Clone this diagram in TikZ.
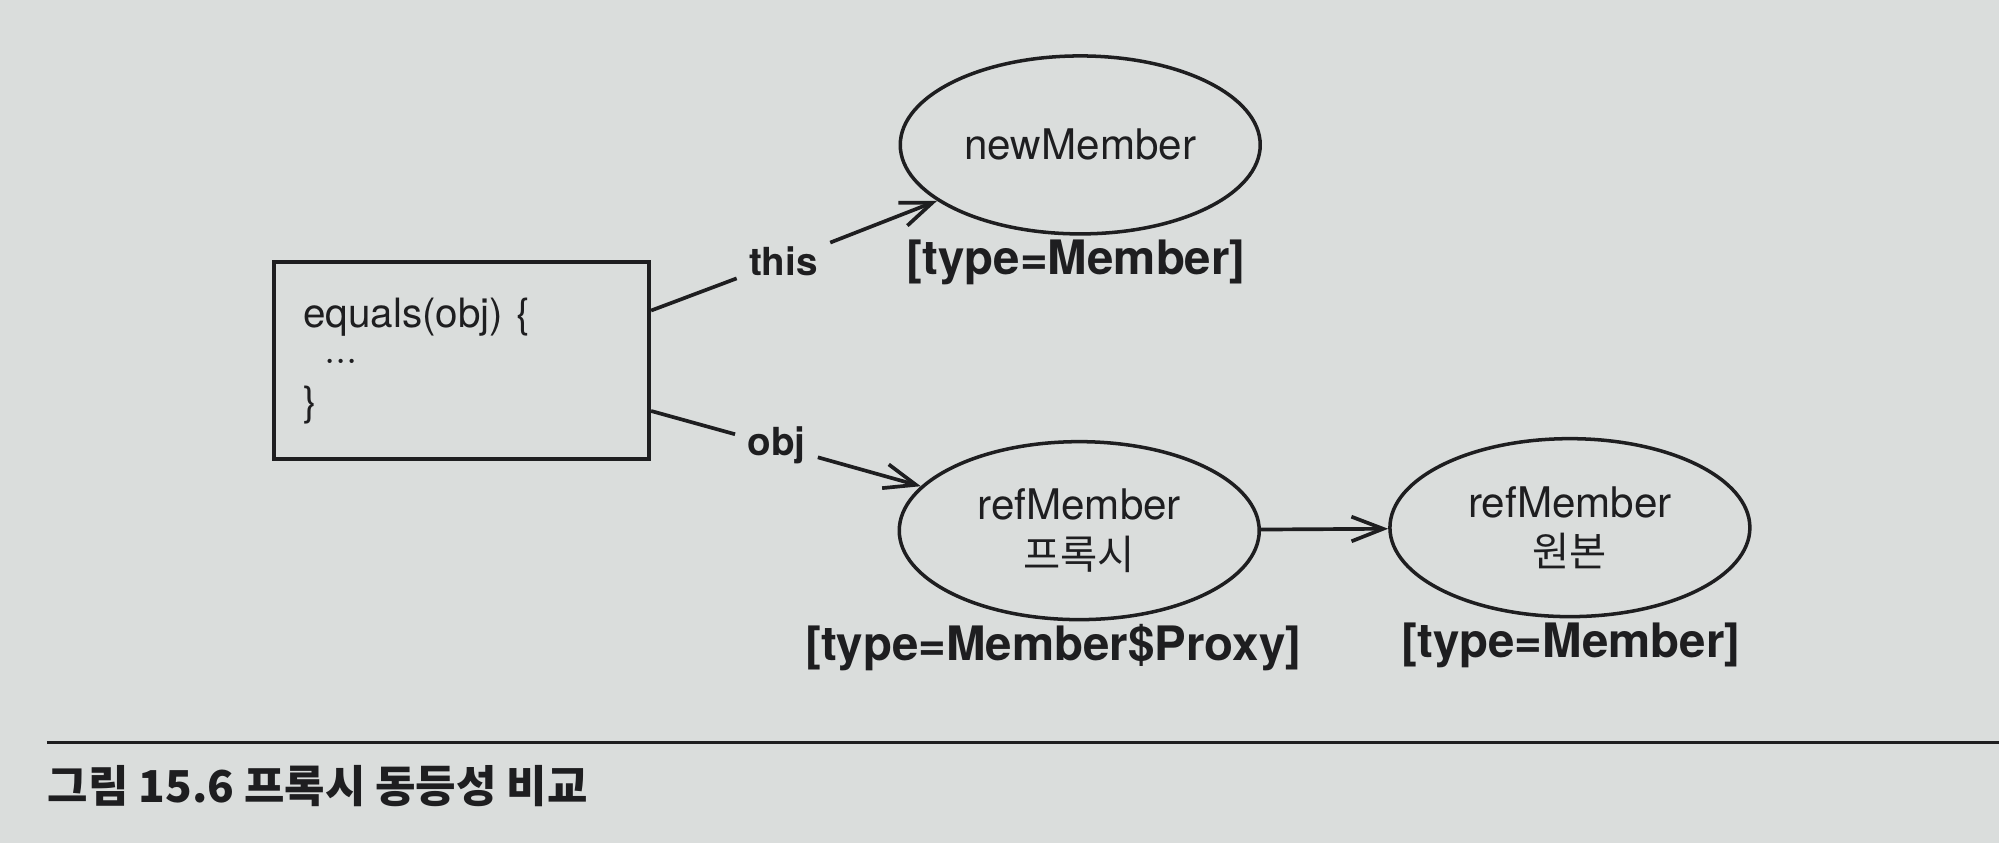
\documentclass[tikz,border=0pt]{standalone}
\usepackage{fontspec}
\setmainfont{TeX Gyre Heros}
\newfontfamily\kr{Noto Sans CJK KR}
\usetikzlibrary{arrows.meta,shapes.geometric,calc}
\definecolor{paper}{RGB}{218,221,220}
\definecolor{ink}{RGB}{30,30,32}

\begin{document}
\begin{tikzpicture}[x=0.01cm,y=-0.01cm,
    every node/.style={text=ink},
    codebox/.style={draw=ink,line width=1.1pt,minimum width=3.75cm,minimum height=1.97cm,
      text width=3.17cm,align=left,font=\fontsize{11.5}{12.5}\selectfont},
    objnode/.style={ellipse,draw=ink,line width=1pt,inner sep=0pt,minimum width=3.6cm,
      minimum height=1.78cm,align=center,font=\fontsize{12}{14}\selectfont},
    typelabel/.style={font=\bfseries\fontsize{13.5}{15}\selectfont,inner sep=0pt},
    varlabel/.style={font=\bfseries\fontsize{11}{13}\selectfont},
    link/.style={draw=ink,line width=1.05pt},
    ref/.style={link,-{Straight Barb[length=9pt,width=7pt]}}]
  \fill[paper] (0,0) rectangle (2000,844);
  % method box and the two references
  \node[codebox] (eq) at (462,361) {equals(obj) \{\\\hspace*{6pt}···\\\}};
  \node[varlabel] (this) at (784,261) {this};
  \node[varlabel] (obj) at (777,446) {obj};
  % objects
  \node[objnode] (nm) at (1081,145) {newMember};
  \node[objnode] (px) at (1080,531) {refMember\\{\kr\fontsize{11.5}{14}\selectfont 프록시}};
  \node[objnode] (org) at (1571,528) {refMember\\{\kr\fontsize{11.5}{14}\selectfont 원본}};
  \node[typelabel] (nmtype) at (1077,263) {[type=Member]};
  \node[typelabel] (pxtype) at (1054,648) {[type=Member\$Proxy]};
  \node[typelabel] (orgtype) at (1572,646) {[type=Member]};
  \draw[link] ($(eq.north east)!0.25!(eq.south east)$) -- (this);
  \draw[link] ($(eq.north east)!0.75!(eq.south east)$) -- (obj);
  \draw[ref] (this) -- (nm);
  \draw[ref] (obj) -- (px);
  \draw[ref] (px) -- (org);
  % caption
  \draw[ink,line width=0.8pt] (47,743) -- (2000,743);
  \node[anchor=west,inner sep=0pt,font=\kr\bfseries\fontsize{12.5}{14}\selectfont] (cap) at (47,787) {그림 15.6 프록시 동등성 비교};
\end{tikzpicture}
\end{document}
